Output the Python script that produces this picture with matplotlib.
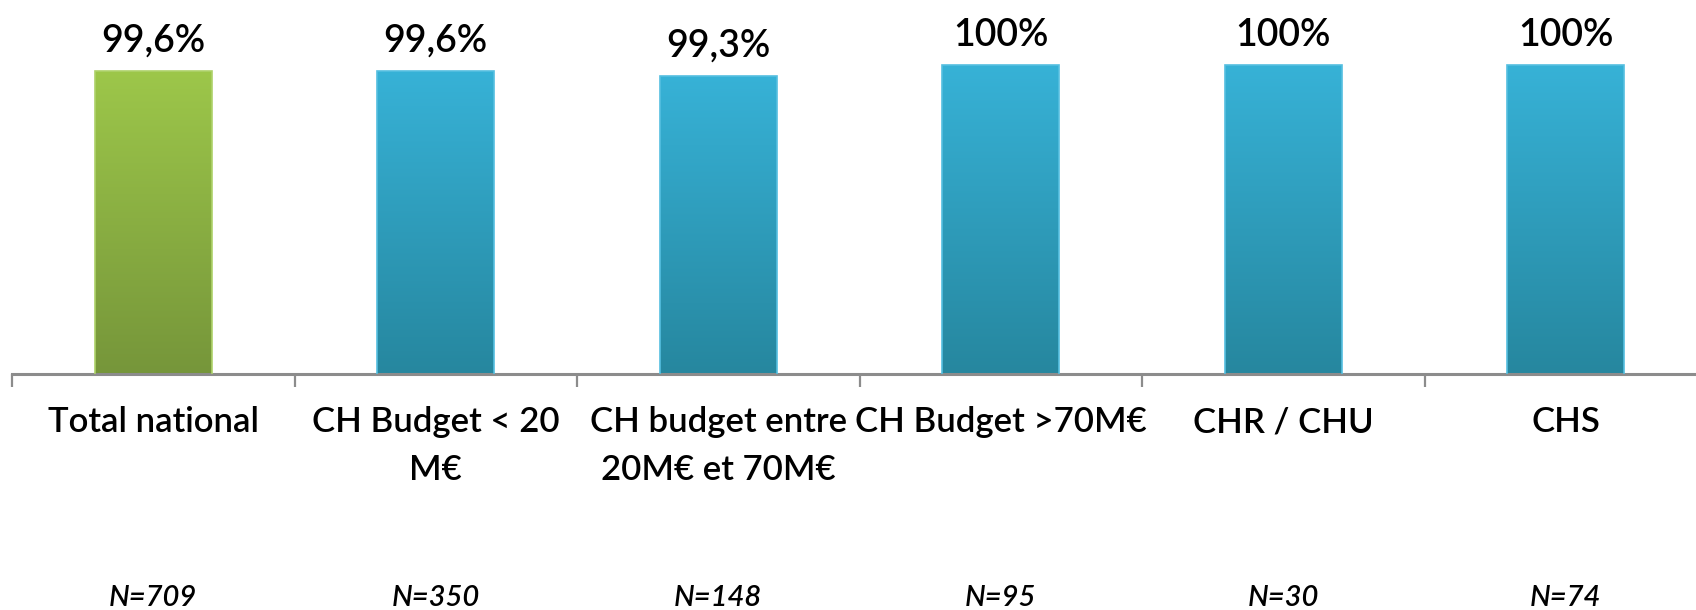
import numpy as np
import matplotlib
matplotlib.use('Agg')
import matplotlib.pyplot as plt
import matplotlib.transforms as mtransforms
from matplotlib.colors import LinearSegmentedColormap

categories = ['Total national', 'CH Budget < 20\nM€', 'CH budget entre\n20M€ et 70M€',
              'CH Budget >70M€', 'CHR / CHU', 'CHS']
values = [99.6, 99.6, 99.3, 100, 100, 100]
value_labels = ['99,6%', '99,6%', '99,3%', '100%', '100%', '100%']
counts = ['N=709', 'N=350', 'N=148', 'N=95', 'N=30', 'N=74']

plt.rcParams['font.family'] = ['Lato', 'DejaVu Sans']

green = LinearSegmentedColormap.from_list('g', ['#9dc74a', '#76963a'])
blue = LinearSegmentedColormap.from_list('b', ['#37b2d7', '#26879f'])

W, H = 1696, 610
fig = plt.figure(figsize=(W / 100, H / 100), dpi=100)
base_y = 373.5
px_per_pct = 15.425
ax = fig.add_axes([12 / W, (H - base_y) / H, 1695 / W, 22 * px_per_pct / H])
ax.set_xlim(-0.5, 5.5)
ax.set_ylim(80, 102)

x = np.arange(len(categories))
bars = ax.bar(x, values, width=0.414, bottom=0, color='none', zorder=2)
grad = np.linspace(0, 1, 256).reshape(-1, 1)
for i, b in enumerate(bars):
	cmap = green if i == 0 else blue
	edge = '#aed26a' if i == 0 else '#55bfe0'
	x0, w = b.get_x(), b.get_width()
	top = b.get_height()
	im = ax.imshow(grad, cmap=cmap, aspect='auto', extent=(x0, x0 + w, 80, top),
				   origin='upper', zorder=2)
	im.set_clip_path(b)
	b.set_edgecolor(edge)
	b.set_linewidth(1.2)
	b.set_zorder(3)

for b, lbl in zip(bars, value_labels):
	ax.annotate(lbl, (b.get_x() + b.get_width() / 2, b.get_height()),
				xytext=(0, 14), textcoords='offset points',
				ha='center', va='baseline', fontsize=27, fontweight='semibold',
				color='black')

for s in ['top', 'left', 'right']:
	ax.spines[s].set_visible(False)
ax.spines['bottom'].set_color('#8c8c8c')
ax.spines['bottom'].set_linewidth(2.2)
ax.yaxis.set_visible(False)
ax.set_xticks([])
ax.set_xticks(np.arange(-0.5, 6, 1), minor=True)
ax.tick_params(axis='x', which='minor', length=9.5, width=1.6, color='#8c8c8c')
ax.tick_params(axis='x', which='major', length=0)

# category names under the axis, sample sizes at the bottom
trans = mtransforms.blended_transform_factory(ax.transData, fig.transFigure)
for i, (cat, n) in enumerate(zip(categories, counts)):
	ax.text(i, 1 - 406 / H, cat, ha='center', va='top', multialignment='center',
			fontsize=25, fontweight='semibold', linespacing=1.62,
			transform=trans, clip_on=False)
	ax.text(i, 1 - 606 / H, n, ha='center', va='baseline', fontsize=21,
			style='italic', fontweight='semibold', transform=trans, clip_on=False)

fig.savefig('out.png', dpi=100)
